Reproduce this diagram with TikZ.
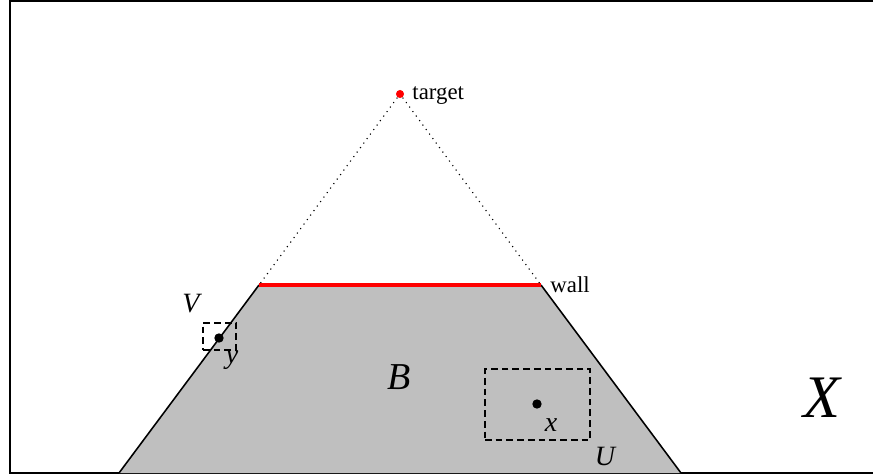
\documentclass[tikz,border=0pt]{standalone}
\usepackage{fontspec}
\setmainfont{Liberation Serif}
\begin{document}
\begin{tikzpicture}[x=0.447pt,y=-0.447pt,
  lbl/.style={inner sep=0pt,font=\fontsize{10.2}{12}\selectfont},
  mlbl/.style={inner sep=0pt,font=\fontsize{12.5}{14}\selectfont\itshape},
  dashbox/.style={draw,dash pattern=on 3pt off 1.8pt,line width=0.5pt},
  pt/.style={circle,fill,inner sep=0pt,minimum size=4.2pt}]
\useasboundingbox (0,0) rectangle (873,476);
\begin{scope}
\clip (0,0) rectangle (873,476);
\draw[line width=0.9pt] (10,1) rectangle (890,473);
\coordinate (bl) at (119,473);
\coordinate (tl) at (259,285);
\coordinate (tr) at (541,285);
\coordinate (br) at (681,473);
\fill[gray!50] (bl) -- (tl) -- (tr) -- (br) -- cycle;
\draw[line width=0.7pt] (bl) -- (tl);
\draw[line width=0.7pt] (tr) -- (br);
\draw[red,line width=1.8pt] (tl) -- (tr);
\node[pt,red,minimum size=3.6pt] (target) at (400,94) {};
\draw[dotted,line width=0.5pt] (target) -- (tl);
\draw[dotted,line width=0.5pt] (target) -- (tr);
\node[lbl,anchor=west] (tlabel) at (412,96) {target};
\node[lbl,anchor=west] (wlabel) at (550,285) {wall};
\node[dashbox,minimum width=33*0.447pt,minimum height=27*0.447pt,inner sep=0pt] (Vbox) at (219.5,336.5) {};
\node[pt] (y) at (219,338) {};
\node[mlbl] (V) at (191,304) {V};
\node[mlbl] (ylab) at (232,360) {y};
\node[dashbox,minimum width=105*0.447pt,minimum height=71*0.447pt,inner sep=0pt] (Ubox) at (537.5,404.5) {};
\node[pt] (x) at (537,404) {};
\node[mlbl] (xlab) at (551,425) {x};
\node[mlbl] (U) at (605,456) {U};
\node[inner sep=0pt,font=\fontsize{17}{20}\selectfont\itshape] (B) at (399,377) {B};
\node[inner sep=0pt,font=\fontsize{27}{30}\selectfont\itshape] (X) at (822,398) {X};
\end{scope}
\end{tikzpicture}
\end{document}
